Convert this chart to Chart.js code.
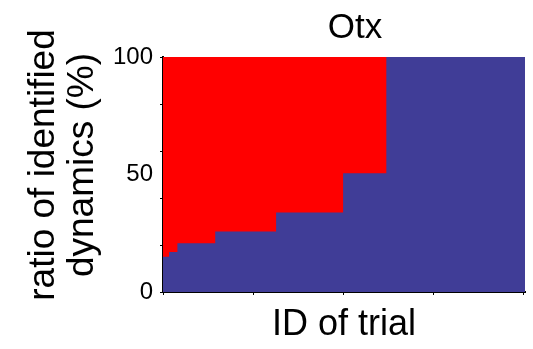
<!DOCTYPE html>
<html>
<head>
<meta charset="utf-8">
<title>Otx</title>
<script src="https://cdn.jsdelivr.net/npm/chart.js@4/dist/chart.umd.min.js"></script>
<style>
    html, body { margin: 0; padding: 0; background: #fff; }
    canvas { display: block; }
</style>
</head>
<body>
<canvas id="otx-chart" width="533" height="349"></canvas>
<script>
    "use strict";

    // Data
    var trialIds = [0, 1.7, 4, 14.5, 31.4, 50, 62, 100.5];
    var blueRatio = [15, 17, 20.7, 25.7, 33.8, 50.5, 100, 100];
    var topIds = [0, 100.5];
    var topRatio = [100, 100];
    var xTicks = [0, 25, 50, 75, 100];
    var yTicks = [0, 20, 40, 50, 60, 80, 100];
    var yLabels = [0, 50, 100];
    var yTitle = ['ratio of identified', 'dynamics (%)'];

    var FONT = "'Liberation Sans', Arial, sans-serif";

    function points(xs, ys) {
        return xs.map(function (x, i) { return {x: x, y: ys[i]}; });
    }

    // Title and y label placed like the original figure
    var figureText = {
        id: 'figureText',
        afterDraw: function (chart) {
            var ctx = chart.ctx;
            ctx.save();
            ctx.fillStyle = '#000';
            ctx.textAlign = 'center';
            ctx.textBaseline = 'alphabetic';
            ctx.font = "35px " + FONT;
            ctx.fillText('Otx', 355, 38);

            ctx.font = "37px " + FONT;
            var baselines = [54, 93];
            yTitle.forEach(function (line, i) {
                ctx.save();
                ctx.translate(baselines[i], 165);
                ctx.rotate(-Math.PI / 2);
                ctx.fillText(line, 0, 0);
                ctx.restore();
            });
            ctx.restore();
        }
    };

    var ctx = document.getElementById('otx-chart').getContext('2d');
    var myChart = new Chart(ctx, {
        type: 'line',
        data: {
            datasets: [{
                label: 'identified',
                data: points(trialIds, blueRatio),
                stepped: true,
                fill: 'origin',
                backgroundColor: '#403d97',
                borderWidth: 0,
                pointRadius: 0
            },
            {
                label: 'rest',
                data: points(topIds, topRatio),
                fill: 'origin',
                backgroundColor: '#ff0000',
                borderWidth: 0,
                pointRadius: 0
            }]
        },
        options: {
            responsive: false,
            animation: false,
            layout: { padding: { top: 57, right: 8, left: 0, bottom: 0 } },
            plugins: {
                legend: { display: false },
                tooltip: { enabled: false }
            },
            scales: {
                x: {
                    type: 'linear',
                    min: 0,
                    max: 100.5,
                    afterBuildTicks: function (scale) {
                        scale.ticks = xTicks.map(function (v) { return {value: v}; });
                    },
                    afterFit: function (scale) { scale.height = 57; },
                    border: { display: true, color: '#000', width: 2 },
                    grid: { drawOnChartArea: false, drawTicks: true, tickLength: 3, color: '#000' },
                    ticks: { display: false },
                    title: {
                        display: true,
                        text: 'ID of trial',
                        color: '#000',
                        font: { family: FONT, size: 36 },
                        padding: { top: 0, bottom: 2 }
                    }
                },
                y: {
                    min: 0,
                    max: 100,
                    afterBuildTicks: function (scale) {
                        scale.ticks = yTicks.map(function (v) { return {value: v}; });
                    },
                    afterFit: function (scale) { scale.width = 163; },
                    border: { display: true, color: '#000', width: 2 },
                    grid: {
                        drawOnChartArea: false,
                        drawTicks: true,
                        tickLength: 3,
                        color: function (c) {
                            return c.tick && c.tick.value % 20 === 0 ? '#000' : 'rgba(0,0,0,0)';
                        }
                    },
                    ticks: {
                        autoSkip: false,
                        padding: 7,
                        color: '#000',
                        font: { family: FONT, size: 24 },
                        callback: function (v) { return yLabels.indexOf(v) >= 0 ? String(v) : ''; }
                    },
                    title: { display: false }
                }
            }
        },
        plugins: [figureText]
    });
</script>
</body>
</html>
